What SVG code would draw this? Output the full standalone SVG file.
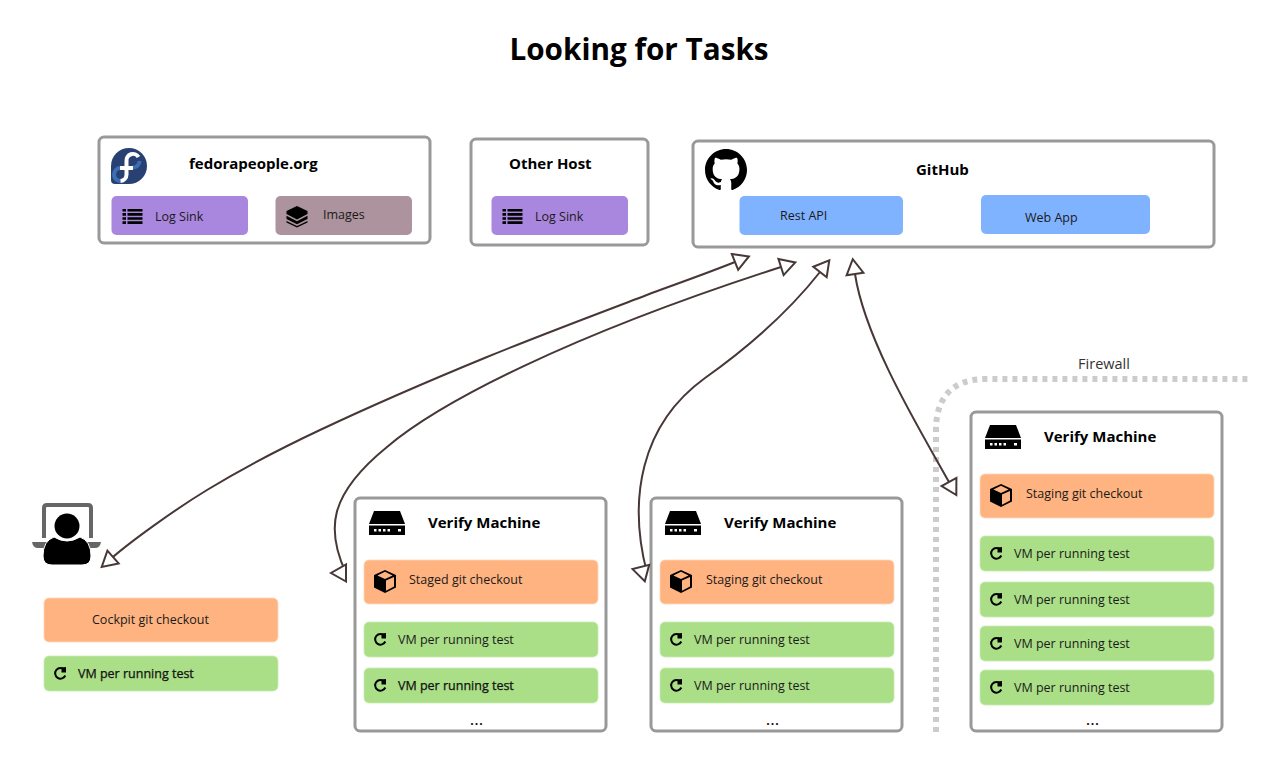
<svg xmlns="http://www.w3.org/2000/svg" width="1280" height="768" viewBox="0 0 1280 768">
<style>
text{font-family:"Open Sans","Noto Sans","Liberation Sans",sans-serif;fill:#000}
.title{font-size:29.700px;font-weight:700;text-anchor:middle}
.h{font-size:15px;font-weight:700}
.l{font-size:12.500px;fill:#1a1a1a}
.d{stroke:#000;stroke-width:.25px}
.dots{font-size:17px;text-anchor:middle}
.fwt{font-size:14.500px;fill:#333;text-anchor:middle}
.box{fill:#fff;stroke:#999;stroke-width:3}
.p{fill:#aa87de}.m{fill:#ac939d}.b{fill:#80b3ff}.o{fill:#ffb380;stroke:#ffd5b8;stroke-width:.8}.g{fill:#aade87;stroke:#c8ecb0;stroke-width:.8}
.c{fill:none;stroke:#483737;stroke-width:2}
.fw{fill:none;stroke:#ccc;stroke-width:6;stroke-dasharray:5 5}
</style>
<defs>
<marker id="tri" markerUnits="userSpaceOnUse" markerWidth="20" markerHeight="22" viewBox="-2 -11 20 22" refX="0" refY="0" orient="auto-start-reverse">
<path d="M0,-8.500L15,0L0,8.500Z" fill="#fff" stroke="#483737" stroke-width="2"/>
</marker>
<marker id="triL" markerUnits="userSpaceOnUse" markerWidth="20" markerHeight="22" viewBox="-2 -11 20 22" refX="0" refY="0" orient="180">
<path d="M0,-8.500L15,0L0,8.500Z" fill="#fff" stroke="#483737" stroke-width="2"/>
</marker>
<marker id="triL2" markerUnits="userSpaceOnUse" markerWidth="20" markerHeight="22" viewBox="-2 -11 20 22" refX="0" refY="0" orient="195">
<path d="M0,-8.500L15,0L0,8.500Z" fill="#fff" stroke="#483737" stroke-width="2"/>
</marker>
<g id="i-server"><path d="M5,0H31L36,13H0Z"/><path fill-rule="evenodd" d="M0,14.500H36V24H0ZM5,18v2.500h2.500v-2.500ZM9.500,18v2.500h2.500v-2.500ZM14,18v2.500h2.500v-2.500ZM18.500,18v2.500h2.500v-2.500ZM29,18v2.500h3v-2.500Z"/></g>
<g id="i-cube"><path fill-rule="evenodd" d="M11,0L22,5V17.500L11,23L0,17.500V5ZM11,1.800L3.400,5.400L11,9L18.600,5.400ZM20,7L12,10.500V20.800L20,16.600Z"/></g>
<g id="i-ref"><path d="M10.400,2.800A5.300,5.300 0 1 0 11.300,8.500" fill="none" stroke="#000" stroke-width="2"/><path d="M7.500,0.500L12,0V5.500H7.500Z"/></g>
<g id="i-list"><path d="M0,0h3.500v2.600h-3.500ZM5,0h15v2.600h-15ZM0,4.100h3.500v2.600h-3.500ZM5,4.100h15v2.600h-15ZM0,8.200h3.500v2.600h-3.500ZM5,8.200h15v2.600h-15ZM0,12.300h3.500v2.600h-3.500ZM5,12.300h15v2.600h-15Z"/></g>
<g id="i-layers"><path d="M10.500,0L21,5V8L10.500,13.500L0,8V5Z"/><path d="M0,9.800L10.500,15.300L21,9.800V13L10.500,18.300L0,13Z"/><path d="M0,15L10.500,20L21,15V16.500L10.500,21.500L0,16.500Z"/></g>
</defs>
<rect width="1280" height="768" fill="#fff"/>
<text class="title" x="639" y="60">Looking for Tasks</text>

<path id="firewall" class="fw" d="M936,732V430C936,400 950,379 986,379H1252"/>
<text class="fwt" x="1104" y="369">Firewall</text>

<g id="fedorapeople">
<rect class="box" x="99" y="137" width="331" height="106" rx="5"/>
<path d="M129,148A18,18 0 0 1 129,184H115Q111,184 111,180V166A18,18 0 0 1 129,148Z" fill="#294172"/>
<path d="M133,167.500A6.500,6.500 0 0 0 139.500,161M120.500,168A6.500,6.500 0 0 0 114,174.500A6.500,6.500 0 0 0 120.500,181" fill="none" stroke="#3c6eb4" stroke-width="4"/>
<path d="M138.500,157A6.500,6.500 0 0 0 126.500,161V174.500A6.500,6.500 0 0 1 120.500,181M120,168H133" fill="none" stroke="#fff" stroke-width="4"/>
<text class="h" x="189" y="169">fedorapeople.org</text>
<rect class="p" x="111.500" y="196" width="136.500" height="39" rx="5"/>
<use href="#i-list" x="122.500" y="209"/>
<text class="l" x="155" y="221">Log Sink</text>
<rect class="m" x="275.500" y="196" width="136.500" height="39" rx="5"/>
<use href="#i-layers" x="286.500" y="206"/>
<text class="l" x="323" y="219">Images</text>
</g>

<g id="otherhost">
<rect class="box" x="471" y="139" width="177" height="106" rx="5"/>
<text class="h" x="509" y="169">Other Host</text>
<rect class="p" x="491.500" y="196" width="136.500" height="39" rx="5"/>
<use href="#i-list" x="502.500" y="209"/>
<text class="l" x="535" y="221">Log Sink</text>
</g>

<g id="github">
<rect class="box" x="693" y="141" width="521" height="106" rx="5"/>
<path transform="translate(705,149) scale(2.625)" d="M8 0C3.580 0 0 3.580 0 8c0 3.540 2.290 6.530 5.470 7.590.4.070.55-.17.55-.38 0-.19-.01-.82-.01-1.490-2.010.37-2.530-.49-2.690-.94-.09-.23-.48-.94-.82-1.130-.28-.15-.68-.52-.01-.53.63-.01 1.080.58 1.230.82.72 1.210 1.870.87 2.330.66.07-.52.28-.87.51-1.070-1.780-.2-3.640-.89-3.640-3.950 0-.87.31-1.590.82-2.150-.08-.2-.36-1.020.08-2.120 0 0 .67-.21 2.200.82.64-.18 1.320-.27 2-.27.68 0 1.360.09 2 .27 1.530-1.040 2.200-.82 2.200-.82.44 1.100.16 1.920.08 2.120.51.56.82 1.270.82 2.150 0 3.070-1.870 3.750-3.650 3.950.29.25.54.73.54 1.480 0 1.070-.01 1.930-.01 2.200 0 .21.15.46.55.38A8.013 8.013 0 0 0 16 8c0-4.420-3.580-8-8-8z"/>
<text class="h" x="916" y="175">GitHub</text>
<rect class="b" x="739.500" y="196" width="163.500" height="39" rx="5"/>
<text class="l" x="780" y="220">Rest API</text>
<rect class="b" x="981" y="195" width="169" height="39" rx="5"/>
<text class="l" x="1025" y="222">Web App</text>
</g>

<g id="cockpit">
<path d="M44,538V508Q44,505 47,505H88Q91,505 91,508V538" fill="none" stroke="#666" stroke-width="4"/>
<path d="M32,542H101Q100,548 95,548H38Q33,548 32,542Z" fill="#666"/>
<circle cx="67" cy="526" r="12.500"/>
<path d="M43,556Q43,541 54,537Q67,545 80,537Q91,541 91,556Q91,565 82,565H52Q43,565 43,556Z" stroke="#fff"/>
<rect class="o" x="44" y="598" width="234" height="44" rx="5"/>
<text class="l" x="92" y="624">Cockpit git checkout</text>
<rect class="g" x="44" y="656" width="234" height="35" rx="5"/>
<use href="#i-ref" x="54" y="667"/>
<text class="l d" x="78" y="678">VM per running test</text>
</g>

<g id="verify1">
<rect class="box" x="355" y="498" width="251" height="233" rx="5"/>
<use href="#i-server" x="369" y="511"/>
<text class="h" x="428" y="527.500">Verify Machine</text>
<rect class="o" x="364" y="560" width="234" height="44" rx="5"/>
<use href="#i-cube" x="374" y="570"/>
<text class="l" x="409" y="584">Staged git checkout</text>
<rect class="g" x="364" y="622" width="234" height="35" rx="5"/>
<use href="#i-ref" x="374" y="633"/>
<text class="l" x="398" y="644">VM per running test</text>
<rect class="g" x="364" y="668" width="234" height="35" rx="5"/>
<use href="#i-ref" x="374" y="679"/>
<text class="l d" x="398" y="690">VM per running test</text>
<text class="dots" x="476.500" y="725">...</text>
</g>

<g id="verify2">
<rect class="box" x="651" y="498" width="251" height="233" rx="5"/>
<use href="#i-server" x="665" y="511"/>
<text class="h" x="724" y="527.500">Verify Machine</text>
<rect class="o" x="660" y="560" width="234" height="44" rx="5"/>
<use href="#i-cube" x="670" y="570"/>
<text class="l" x="706" y="584">Staging git checkout</text>
<rect class="g" x="660" y="622" width="234" height="35" rx="5"/>
<use href="#i-ref" x="670" y="633"/>
<text class="l" x="694" y="644">VM per running test</text>
<rect class="g" x="660" y="668" width="234" height="35" rx="5"/>
<use href="#i-ref" x="670" y="679"/>
<text class="l" x="694" y="690">VM per running test</text>
<text class="dots" x="772.500" y="725">...</text>
</g>

<g id="verify3">
<rect class="box" x="971" y="412" width="251" height="319" rx="5"/>
<use href="#i-server" x="985" y="425"/>
<text class="h" x="1044" y="441.500">Verify Machine</text>
<rect class="o" x="980" y="474" width="234" height="44" rx="5"/>
<use href="#i-cube" x="990" y="484"/>
<text class="l" x="1026" y="498">Staging git checkout</text>
<rect class="g" x="980" y="536" width="234" height="35" rx="5"/>
<use href="#i-ref" x="990" y="547"/>
<text class="l" x="1014" y="558">VM per running test</text>
<rect class="g" x="980" y="582" width="234" height="35" rx="5"/>
<use href="#i-ref" x="990" y="593"/>
<text class="l" x="1014" y="604">VM per running test</text>
<rect class="g" x="980" y="626" width="234" height="35" rx="5"/>
<use href="#i-ref" x="990" y="637"/>
<text class="l" x="1014" y="648">VM per running test</text>
<rect class="g" x="980" y="670" width="234" height="35" rx="5"/>
<use href="#i-ref" x="990" y="681"/>
<text class="l" x="1014" y="692">VM per running test</text>
<text class="dots" x="1092.500" y="725">...</text>
</g>

<g id="connectors">
<path class="c" marker-start="url(#tri)" marker-end="url(#tri)" d="M113,557C129,543 172.500,511 207,490C241.500,469 273.300,452 320,430C366.700,408 430.300,380.300 487,357C543.700,333.700 618.700,305.800 660,290C685,281 710,272 735,262"/>
<path class="c" marker-start="url(#triL)" marker-end="url(#tri)" d="M346,573C326,530 328,495 387,447C440,402 570,335 781,267"/>
<path class="c" marker-start="url(#triL2)" marker-end="url(#tri)" d="M647,573C628,500 640,425 705,378C750,346 790,310 820,272"/>
<path class="c" marker-start="url(#tri)" marker-end="url(#tri)" d="M949,482C920,430 865,340 855,274"/>
</g>
</svg>
